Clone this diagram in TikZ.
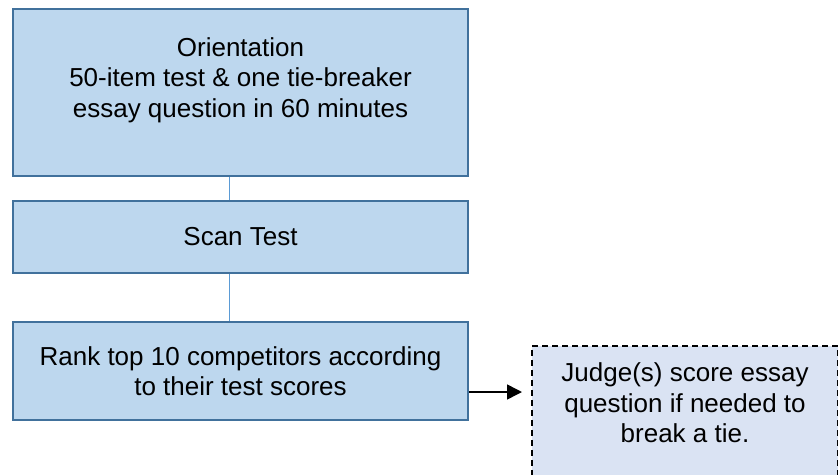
\documentclass[tikz,border=0pt]{standalone}
\usepackage{fontspec}
\setmainfont{Liberation Sans}
\usetikzlibrary{arrows.meta,positioning}
\definecolor{boxfill}{HTML}{BDD7EE}
\definecolor{boxline}{HTML}{41719C}
\definecolor{linkline}{HTML}{5B9BD5}
\definecolor{notefill}{HTML}{DAE3F3}

\begin{document}
\begin{tikzpicture}[x=1pt, y=-1pt, > = {Triangle[length=15pt,width=15pt]},
	stepbox/.style={draw=boxline, line width=2pt, fill=boxfill, inner sep=0pt, minimum width=455pt},
	notebox/.style={draw=black, line width=1.5pt, dash pattern=on 6pt off 4pt, fill=notefill, inner sep=0pt},
	steptext/.style={align=center, font=\fontsize{26}{30.5}\selectfont}]
	\useasboundingbox (0,0) rectangle (838,474);

	\node[stepbox, anchor=north west, minimum height=167pt] (orient) at (12,8) {}; % first step
	\node[steptext] (orienttxt) at (240.5,80) {Orientation\\50-item test \& one tie-breaker\\essay question in 60 minutes};
	\node[stepbox, steptext, minimum height=72pt, below=23pt of orient] (scan) {Scan Test};
	\node[stepbox, steptext, minimum height=98pt, below=47pt of scan] (rank) {Rank top 10 competitors according\\to their test scores};

	\node[notebox, anchor=north west, minimum width=306pt, minimum height=134pt] (note) at (531,345) {}; % tie-breaker
	\node[steptext] (notetxt) at (685,403) {Judge(s) score essay\\question if needed to\\break a tie.};

	\coordinate (link) at (229.5,0);
	\coordinate (tie) at (0,392);
	\draw[linkline, line width=1.2pt] (orient.south -| link) -- (scan.north -| link);
	\draw[linkline, line width=1.2pt] (scan.south -| link) -- (rank.north -| link);
	\draw[->, line width=1.5pt, shorten >=9pt] (rank.east |- tie) -- (note.west |- tie);
\end{tikzpicture}
\end{document}
